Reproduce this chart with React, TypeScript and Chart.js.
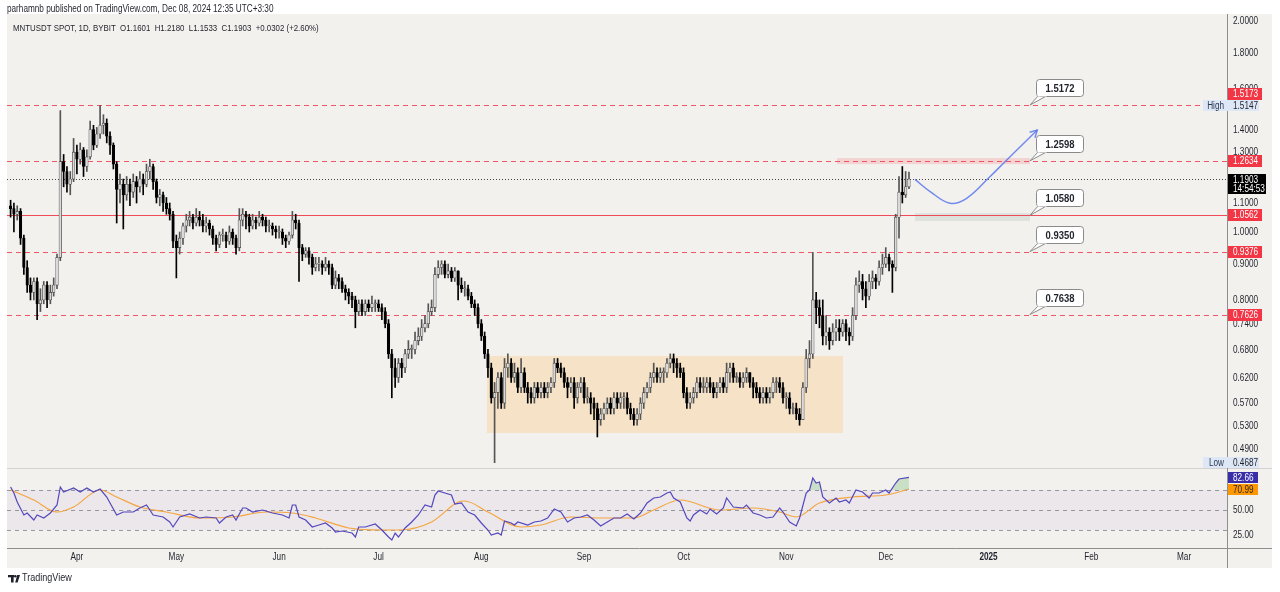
import React, { useEffect, useRef } from "react";
import { Chart, registerables } from "chart.js";

Chart.register(...registerables);

// ---------------- data ----------------
const FIRST_OPEN = 1.09;

// daily closes, 12 Mar 2024 (day 0) .. 8 Dec 2024 (day 271)
const closes = [
  1.08, 1.06, 1.07, 0.98, 0.89, 0.84, 0.82, 0.85, 0.79, 0.80,
  0.84, 0.80, 0.82, 0.84, 0.92, 1.26, 1.22, 1.17, 1.19, 1.30,
  1.27, 1.31, 1.24, 1.28, 1.40, 1.33, 1.38, 1.42, 1.43, 1.37,
  1.33, 1.25, 1.15, 1.17, 1.13, 1.17, 1.14, 1.18, 1.16, 1.19,
  1.17, 1.22, 1.24, 1.18, 1.12, 1.13, 1.10, 1.08, 1.06, 0.97,
  0.95, 0.98, 1.02, 1.04, 1.05, 1.03, 1.05, 1.04, 1.02, 1.03,
  1.01, 0.98, 0.96, 0.99, 0.99, 0.97, 1.00, 0.98, 0.95, 1.04,
  1.06, 1.05, 1.02, 1.04, 1.03, 1.05, 1.04, 1.02, 1.02, 1.01,
  1.00, 1.00, 0.98, 0.97, 0.99, 1.04, 1.03, 0.95, 0.93, 0.94,
  0.92, 0.89, 0.90, 0.90, 0.89, 0.90, 0.89, 0.84, 0.86, 0.85,
  0.83, 0.82, 0.81, 0.80, 0.77, 0.79, 0.77, 0.79, 0.78, 0.79,
  0.79, 0.78, 0.77, 0.74, 0.67, 0.64, 0.62, 0.65, 0.64, 0.67,
  0.68, 0.68, 0.70, 0.71, 0.73, 0.74, 0.77, 0.78, 0.87, 0.89,
  0.90, 0.87, 0.88, 0.86, 0.88, 0.84, 0.83, 0.83, 0.81, 0.79,
  0.78, 0.74, 0.71, 0.67, 0.64, 0.58, 0.59, 0.62, 0.57, 0.64,
  0.65, 0.62, 0.63, 0.60, 0.63, 0.60, 0.59, 0.58, 0.60, 0.59,
  0.60, 0.59, 0.60, 0.61, 0.65, 0.64, 0.63, 0.61, 0.60, 0.61,
  0.58, 0.60, 0.61, 0.58, 0.58, 0.57, 0.56, 0.54, 0.55, 0.56,
  0.57, 0.56, 0.58, 0.57, 0.58, 0.58, 0.56, 0.55, 0.54, 0.55,
  0.57, 0.59, 0.60, 0.62, 0.63, 0.62, 0.63, 0.63, 0.65, 0.66,
  0.65, 0.64, 0.63, 0.59, 0.57, 0.58, 0.59, 0.61, 0.60, 0.60,
  0.61, 0.60, 0.59, 0.60, 0.61, 0.60, 0.63, 0.64, 0.62, 0.62,
  0.61, 0.62, 0.63, 0.61, 0.60, 0.59, 0.58, 0.59, 0.58, 0.59,
  0.61, 0.61, 0.60, 0.58, 0.58, 0.56, 0.56, 0.55, 0.54, 0.60,
  0.66, 0.67, 0.80, 0.78, 0.76, 0.71, 0.72, 0.70, 0.72, 0.73,
  0.72, 0.74, 0.72, 0.71, 0.76, 0.84, 0.85, 0.83, 0.81, 0.85,
  0.86, 0.85, 0.89, 0.90, 0.92, 0.90, 0.89, 1.05, 1.14, 1.13,
  1.1601, 1.1903,
];

const highs = [
  1.11, 1.10, 1.09, 1.08, 0.99, 0.91, 0.86, 0.86, 0.86, 0.83,
  0.85, 0.85, 0.84, 0.86, 0.93, 1.49, 1.29, 1.24, 1.22, 1.36,
  1.33, 1.34, 1.32, 1.31, 1.44, 1.42, 1.41, 1.5147, 1.47, 1.45,
  1.39, 1.34, 1.26, 1.21, 1.19, 1.20, 1.19, 1.21, 1.20, 1.22,
  1.21, 1.25, 1.27, 1.25, 1.19, 1.15, 1.14, 1.12, 1.10, 1.07,
  0.99, 1.00, 1.03, 1.06, 1.07, 1.06, 1.08, 1.07, 1.06, 1.05,
  1.04, 1.02, 0.99, 1.00, 1.01, 1.00, 1.02, 1.01, 0.99, 1.08,
  1.08, 1.07, 1.06, 1.06, 1.05, 1.07, 1.06, 1.05, 1.04, 1.03,
  1.02, 1.02, 1.01, 0.99, 1.00, 1.07, 1.06, 1.04, 0.96, 0.95,
  0.95, 0.93, 0.92, 0.92, 0.91, 0.92, 0.91, 0.90, 0.88, 0.87,
  0.86, 0.84, 0.83, 0.82, 0.81, 0.80, 0.80, 0.80, 0.80, 0.81,
  0.80, 0.80, 0.79, 0.78, 0.75, 0.68, 0.66, 0.66, 0.66, 0.68,
  0.70, 0.69, 0.72, 0.73, 0.75, 0.76, 0.79, 0.80, 0.89, 0.91,
  0.91, 0.91, 0.90, 0.89, 0.89, 0.88, 0.86, 0.85, 0.84, 0.82,
  0.80, 0.79, 0.75, 0.72, 0.68, 0.65, 0.61, 0.63, 0.63, 0.66,
  0.67, 0.66, 0.65, 0.64, 0.66, 0.64, 0.61, 0.60, 0.61, 0.61,
  0.61, 0.61, 0.61, 0.62, 0.66, 0.66, 0.65, 0.64, 0.62, 0.62,
  0.62, 0.61, 0.62, 0.62, 0.60, 0.59, 0.58, 0.57, 0.56, 0.57,
  0.58, 0.58, 0.59, 0.59, 0.59, 0.59, 0.59, 0.57, 0.56, 0.56,
  0.58, 0.60, 0.61, 0.63, 0.65, 0.64, 0.64, 0.64, 0.66, 0.67,
  0.67, 0.66, 0.65, 0.64, 0.60, 0.59, 0.60, 0.62, 0.62, 0.62,
  0.62, 0.62, 0.61, 0.61, 0.62, 0.62, 0.65, 0.65, 0.65, 0.63,
  0.63, 0.63, 0.64, 0.63, 0.62, 0.61, 0.60, 0.60, 0.60, 0.60,
  0.62, 0.62, 0.62, 0.61, 0.59, 0.59, 0.57, 0.57, 0.56, 0.61,
  0.68, 0.70, 0.935, 0.82, 0.80, 0.80, 0.76, 0.73, 0.74, 0.75,
  0.75, 0.75, 0.75, 0.73, 0.78, 0.86, 0.88, 0.87, 0.85, 0.87,
  0.88, 0.87, 0.91, 0.93, 0.95, 0.93, 0.91, 1.06, 1.20, 1.24,
  1.22, 1.218,
];

const lows = [
  1.05, 1.00, 1.04, 0.96, 0.87, 0.82, 0.80, 0.80, 0.75, 0.77,
  0.79, 0.78, 0.79, 0.81, 0.83, 0.91, 1.16, 1.14, 1.13, 1.18,
  1.21, 1.25, 1.20, 1.22, 1.27, 1.31, 1.32, 1.36, 1.38, 1.34,
  1.29, 1.23, 1.03, 1.10, 1.01, 1.11, 1.09, 1.12, 1.10, 1.14,
  1.13, 1.16, 1.19, 1.15, 1.10, 1.09, 1.07, 1.06, 1.04, 0.95,
  0.86, 0.93, 0.96, 1.00, 1.02, 1.01, 1.02, 1.02, 1.00, 1.00,
  0.99, 0.96, 0.94, 0.95, 0.97, 0.95, 0.96, 0.96, 0.93, 0.94,
  1.02, 1.01, 1.00, 1.01, 1.01, 1.02, 1.02, 1.00, 1.00, 0.99,
  0.98, 0.98, 0.96, 0.95, 0.96, 0.98, 1.01, 0.85, 0.91, 0.92,
  0.90, 0.87, 0.88, 0.88, 0.87, 0.88, 0.87, 0.83, 0.83, 0.83,
  0.82, 0.80, 0.79, 0.78, 0.73, 0.76, 0.76, 0.76, 0.77, 0.77,
  0.77, 0.77, 0.75, 0.73, 0.66, 0.58, 0.60, 0.61, 0.62, 0.63,
  0.66, 0.66, 0.67, 0.69, 0.70, 0.72, 0.73, 0.76, 0.77, 0.86,
  0.87, 0.86, 0.86, 0.85, 0.85, 0.80, 0.82, 0.81, 0.80, 0.78,
  0.76, 0.73, 0.70, 0.66, 0.62, 0.57, 0.4687, 0.56, 0.56, 0.56,
  0.62, 0.61, 0.61, 0.59, 0.59, 0.59, 0.57, 0.57, 0.57, 0.58,
  0.58, 0.58, 0.58, 0.59, 0.60, 0.63, 0.62, 0.60, 0.58, 0.59,
  0.56, 0.57, 0.59, 0.57, 0.57, 0.55, 0.54, 0.51, 0.53, 0.54,
  0.55, 0.55, 0.55, 0.56, 0.56, 0.56, 0.55, 0.54, 0.53, 0.53,
  0.54, 0.56, 0.58, 0.59, 0.61, 0.61, 0.61, 0.61, 0.62, 0.64,
  0.63, 0.62, 0.62, 0.58, 0.56, 0.56, 0.57, 0.58, 0.59, 0.59,
  0.59, 0.59, 0.58, 0.58, 0.59, 0.59, 0.59, 0.61, 0.61, 0.61,
  0.60, 0.60, 0.61, 0.60, 0.58, 0.58, 0.57, 0.57, 0.57, 0.57,
  0.58, 0.59, 0.59, 0.57, 0.56, 0.55, 0.55, 0.54, 0.53, 0.54,
  0.59, 0.64, 0.66, 0.74, 0.73, 0.69, 0.69, 0.68, 0.69, 0.70,
  0.70, 0.71, 0.70, 0.69, 0.70, 0.75, 0.82, 0.80, 0.78, 0.80,
  0.83, 0.83, 0.84, 0.87, 0.89, 0.88, 0.82, 0.88, 0.98, 1.10,
  1.12, 1.1533,
];

// RSI(14): [day, value]
const rsiPoints: [number, number][] = [
  [0, 73], [1, 67], [2, 58], [4, 45], [5, 47], [7, 40], [8, 45], [10, 42], [12, 47], [14, 55],
  [15, 73], [16, 68], [19, 72], [21, 68], [23, 72], [25, 68], [27, 71], [29, 63], [32, 45], [34, 48],
  [37, 48], [39, 52], [41, 55], [43, 45], [46, 43], [48, 38], [49, 33], [51, 43], [54, 46], [57, 42],
  [59, 43], [62, 42], [63, 37], [65, 43], [67, 45], [68, 40], [70, 52], [71, 52], [73, 48], [76, 50],
  [79, 47], [82, 45], [84, 42], [85, 55], [86, 55], [87, 43], [89, 40], [91, 33], [93, 35], [95, 37],
  [97, 32], [98, 28], [100, 29], [103, 27], [104, 23], [105, 33], [107, 33], [110, 36], [112, 30], [114, 23],
  [115, 20], [116, 27], [117, 23], [119, 32], [121, 38], [123, 45], [125, 55], [127, 53], [128, 65], [129, 69],
  [131, 67], [133, 65], [134, 56], [136, 57], [138, 48], [140, 45], [142, 37], [144, 30], [145, 25], [147, 27],
  [148, 25], [149, 39], [151, 37], [152, 35], [153, 38], [156, 35], [158, 38], [160, 39], [162, 42], [164, 51],
  [166, 48], [168, 38], [170, 42], [172, 43], [174, 45], [176, 40], [178, 34], [180, 38], [182, 42], [184, 42],
  [186, 46], [188, 41], [190, 47], [192, 57], [194, 62], [196, 63], [198, 67], [199, 68], [200, 62], [202, 58],
  [204, 42], [205, 39], [206, 45], [208, 50], [210, 46], [211, 51], [213, 46], [215, 52], [216, 62], [218, 53],
  [221, 52], [222, 55], [224, 47], [226, 45], [228, 42], [230, 43], [232, 52], [233, 48], [235, 38], [237, 34],
  [238, 42], [240, 67], [241, 70], [242, 82], [243, 77], [244, 78], [245, 63], [247, 57], [249, 62], [250, 58],
  [252, 60], [253, 57], [255, 70], [257, 68], [259, 62], [260, 67], [262, 67], [264, 70], [265, 67], [267, 77],
  [268, 81], [271, 82.66],
];

// RSI moving average: [day, value]
const rsiMaPoints: [number, number][] = [
  [0, 70], [7, 60], [14, 48], [19, 53], [27, 70], [32, 63], [39, 53], [47, 48], [57, 42], [67, 43],
  [77, 48], [85, 47], [92, 42], [102, 32], [112, 30], [117, 30], [127, 38], [135, 58], [137, 59], [144, 48],
  [154, 33], [160, 35], [169, 43], [179, 42], [188, 42], [194, 50], [202, 60], [214, 50], [224, 52], [232, 48],
  [237, 43], [244, 57], [254, 63], [264, 65], [271, 70.99],
];

const priceTicks = [2.0, 1.8, 1.6, 1.4, 1.3, 1.1, 1.0, 0.9, 0.8, 0.74, 0.68, 0.62, 0.57, 0.53, 0.49];
const rsiTicks = [50, 25];
const monthDays = [20, 50, 81, 111, 142, 173, 203, 234, 264, 295, 326, 354];
const monthLabels = ["Apr", "May", "Jun", "Jul", "Aug", "Sep", "Oct", "Nov", "Dec", "2025", "Feb", "Mar"];

const dashedLevels = [1.5173, 1.2634, 0.9376, 0.7626];
const solidLevel = 1.0562;
const lastClose = 1.1903;
const countdown = "14:54:53";
const highValue = 1.5147;
const lowValue = 0.4687;
const rsiLast = 82.66;
const rsiMaLast = 70.99;

const calloutTexts = ["1.5172", "1.2598", "1.0580", "0.9350", "0.7638"];
const calloutLevels = [1.5173, 1.2634, 1.0562, 0.9376, 0.7626];
const calloutDay = 307.5;

const rangeBoxDays = [143.7, 251.1];
const rangeBoxPrices = [0.5167, 0.6654];
const resistZoneDays = [249.3, 307.5];
const resistZonePrices = [1.25, 1.275];
const supportZoneDays = [272.8, 307.5];
const supportZonePrices = [1.037, 1.064];

const pathDays = [272.8, 277.4, 283.4, 288.4, 295.4, 300.5, 309.7];
const pathPrices = [1.189, 1.142, 1.099, 1.117, 1.199, 1.267, 1.398];

const publishText = "parhamnb published on TradingView.com, Dec 08, 2024 12:35 UTC+3:30";
const headerText = "MNTUSDT SPOT, 1D, BYBIT  O1.1601  H1.2180  L1.1533  C1.1903  +0.0302 (+2.60%)";

// ---------------- styling ----------------
const FONT = '"Liberation Sans", Arial, sans-serif';
const BG = "#f3f1ee";
const TXT = "#1f222b";
const SQUEEZE = 0.82;
const RED = "#f23645";

const opens = closes.map((c, i) => (i === 0 ? FIRST_OPEN : closes[i - 1]));
const isUp = closes.map((c, i) => c >= opens[i]);

// text drawn with a slight horizontal squeeze, like the narrow UI font of the reference
function sText(
  ctx: CanvasRenderingContext2D,
  text: string,
  x: number,
  y: number,
  size: number,
  color: string,
  align: CanvasTextAlign = "left",
  weight = "normal",
  squeeze = SQUEEZE
) {
  ctx.save();
  ctx.font = `${weight} ${size}px ${FONT}`;
  ctx.fillStyle = color;
  ctx.textBaseline = "middle";
  ctx.textAlign = align;
  ctx.translate(x, y);
  ctx.scale(squeeze, 1);
  ctx.fillText(text, 0, 0);
  ctx.restore();
}

function roundRect(ctx: CanvasRenderingContext2D, x: number, y: number, w: number, h: number, r: number) {
  ctx.beginPath();
  ctx.moveTo(x + r, y);
  ctx.lineTo(x + w - r, y);
  ctx.quadraticCurveTo(x + w, y, x + w, y + r);
  ctx.lineTo(x + w, y + h - r);
  ctx.quadraticCurveTo(x + w, y + h, x + w - r, y + h);
  ctx.lineTo(x + r, y + h);
  ctx.quadraticCurveTo(x, y + h, x, y + h - r);
  ctx.lineTo(x, y + r);
  ctx.quadraticCurveTo(x, y, x + r, y);
  ctx.closePath();
}

function hLine(ctx: CanvasRenderingContext2D, x0: number, x1: number, y: number, color: string, dash: number[]) {
  ctx.save();
  ctx.strokeStyle = color;
  ctx.lineWidth = 1;
  ctx.setLineDash(dash);
  ctx.beginPath();
  const yy = Math.round(y) + 0.5;
  ctx.moveTo(x0, yy);
  ctx.lineTo(x1, yy);
  ctx.stroke();
  ctx.restore();
}

function axisBadge(ctx: CanvasRenderingContext2D, yc: number, text: string, bg: string, fg: string, w = 34, h = 12) {
  const top = Math.round(yc - h / 2);
  ctx.save();
  ctx.fillStyle = bg;
  ctx.fillRect(1228, top, w, h);
  ctx.restore();
  sText(ctx, text, 1233, top + h / 2 + 0.5, 10, fg);
}

const tvPlugin = {
  id: "tvPlugin",
  beforeDraw(chart: any) {
    const { ctx } = chart;
    ctx.save();
    ctx.fillStyle = "#ffffff";
    ctx.fillRect(0, 0, chart.width, chart.height);
    ctx.fillStyle = BG;
    ctx.fillRect(7, 14, 1265, 554);
    ctx.restore();
  },
  beforeDatasetsDraw(chart: any) {
    const { ctx, chartArea } = chart;
    const xs = chart.scales.x;
    const ys = chart.scales.y;
    const rs = chart.scales.rsi;
    const L = chartArea.left;
    const R = chartArea.right;
    ctx.save();
    // consolidation box
    const bx0 = xs.getPixelForValue(rangeBoxDays[0]);
    const bx1 = xs.getPixelForValue(rangeBoxDays[1]);
    const by0 = ys.getPixelForValue(rangeBoxPrices[1]);
    const by1 = ys.getPixelForValue(rangeBoxPrices[0]);
    ctx.fillStyle = "rgba(255,152,0,0.16)";
    ctx.fillRect(bx0, by0, bx1 - bx0, by1 - by0);
    // resistance zone
    const rx0 = xs.getPixelForValue(resistZoneDays[0]);
    const rx1 = xs.getPixelForValue(resistZoneDays[1]);
    const ry0 = ys.getPixelForValue(resistZonePrices[1]);
    const ry1 = ys.getPixelForValue(resistZonePrices[0]);
    ctx.fillStyle = "rgba(242,54,69,0.16)";
    ctx.fillRect(rx0, ry0, rx1 - rx0, ry1 - ry0);
    // support zone
    const sx0 = xs.getPixelForValue(supportZoneDays[0]);
    const sx1 = xs.getPixelForValue(supportZoneDays[1]);
    const sy0 = ys.getPixelForValue(supportZonePrices[1]);
    const sy1 = ys.getPixelForValue(supportZonePrices[0]);
    ctx.fillStyle = "rgba(120,160,140,0.18)";
    ctx.fillRect(sx0, sy0, sx1 - sx0, sy1 - sy0);

    // RSI band
    const r70 = rs.getPixelForValue(70);
    const r30 = rs.getPixelForValue(30);
    ctx.fillStyle = "rgba(126,87,194,0.06)";
    ctx.fillRect(L, r70, R - L, r30 - r70);
    [70, 50, 30].forEach((v) => hLine(ctx, L, R, rs.getPixelForValue(v), "rgba(120,123,134,0.75)", [4, 4]));

    // price levels
    dashedLevels.forEach((p) => hLine(ctx, L, R, ys.getPixelForValue(p), "rgba(240,70,85,0.9)", [5, 4]));
    hLine(ctx, L, R, ys.getPixelForValue(solidLevel), "#ee4a57", []);
    hLine(ctx, L, R, ys.getPixelForValue(lastClose), "rgba(40,40,40,0.85)", [1, 2]);
    ctx.restore();
  },
  afterDatasetsDraw(chart: any) {
    const { ctx } = chart;
    const xs = chart.scales.x;
    const ys = chart.scales.y;
    ctx.save();
    // arrow head at the end of the projection path
    const n = pathDays.length;
    const ex = xs.getPixelForValue(pathDays[n - 1]);
    const ey = ys.getPixelForValue(pathPrices[n - 1]);
    const px = xs.getPixelForValue(pathDays[n - 2]);
    const py = ys.getPixelForValue(pathPrices[n - 2]);
    const ang = Math.atan2(ey - py, ex - px);
    ctx.strokeStyle = "rgba(90,120,235,0.85)";
    ctx.lineWidth = 1.5;
    ctx.beginPath();
    ctx.moveTo(ex - 8 * Math.cos(ang - 0.5), ey - 8 * Math.sin(ang - 0.5));
    ctx.lineTo(ex, ey);
    ctx.lineTo(ex - 8 * Math.cos(ang + 0.5), ey - 8 * Math.sin(ang + 0.5));
    ctx.stroke();

    // callouts
    const tipX = xs.getPixelForValue(calloutDay);
    calloutTexts.forEach((t, i) => {
      const tipY = ys.getPixelForValue(calloutLevels[i]);
      const bx = Math.round(tipX + 6) + 0.5;
      const by = Math.round(tipY - 26) + 0.5;
      const w = 47;
      const h = 17;
      ctx.fillStyle = "#ffffff";
      ctx.strokeStyle = "#8a8a8a";
      ctx.lineWidth = 1;
      ctx.beginPath();
      ctx.moveTo(bx + 2, by + h - 1);
      ctx.lineTo(tipX, tipY);
      ctx.lineTo(bx + 9, by + h);
      ctx.closePath();
      ctx.fill();
      ctx.stroke();
      roundRect(ctx, bx, by, w, h, 3);
      ctx.fill();
      ctx.stroke();
      ctx.fillStyle = "#ffffff";
      ctx.fillRect(bx + 1, by + h - 2, 9, 2);
      sText(ctx, t, bx + w / 2, by + h / 2 + 0.5, 11, TXT, "center", "bold", 0.86);
    });
    ctx.restore();
  },
  afterDraw(chart: any) {
    const { ctx, chartArea } = chart;
    const xs = chart.scales.x;
    const ys = chart.scales.y;
    const rs = chart.scales.rsi;
    ctx.save();
    // frame lines
    hLine(ctx, 7, 1272, ys.bottom - 0.5, "#d2d2d2", []);
    hLine(ctx, 7, 1272, chartArea.bottom - 0.5, "#8e8e8e", []);
    ctx.strokeStyle = "#8e8e8e";
    ctx.lineWidth = 1;
    ctx.beginPath();
    ctx.moveTo(Math.round(chartArea.right) + 0.5, 14);
    ctx.lineTo(Math.round(chartArea.right) + 0.5, 568);
    ctx.stroke();
    ctx.restore();

    // axis tick labels, from the library's own tick lists and scales
    ys.ticks.forEach((t: any) => {
      sText(ctx, Number(t.value).toFixed(4), 1233, ys.getPixelForValue(t.value) + 0.5, 10, TXT);
    });
    rs.ticks.forEach((t: any) => {
      sText(ctx, Number(t.value).toFixed(2), 1233, rs.getPixelForValue(t.value) + 0.5, 10, TXT);
    });
    xs.ticks.forEach((t: any) => {
      const i = monthDays.indexOf(Number(t.value));
      if (i < 0) return;
      const isYear = monthLabels[i] === "2025";
      sText(ctx, monthLabels[i], xs.getPixelForValue(t.value), chartArea.bottom + 9, 10, TXT, "center", isYear ? "bold" : "normal");
    });

    // High / Low markers
    const hy = ys.getPixelForValue(highValue);
    const ly = ys.getPixelForValue(lowValue);
    ([[hy, "High", highValue], [ly, "Low", lowValue]] as any[]).forEach(([yv, lab, val]) => {
      const top = Math.round(yv - 5.5);
      ctx.save();
      ctx.fillStyle = "#dde7f5";
      ctx.fillRect(1203, top, 56, 11);
      ctx.restore();
      sText(ctx, lab, 1224, top + 6, 10, "#2a3a55", "right");
      sText(ctx, val.toFixed(4), 1233, top + 6, 10, TXT);
    });

    // red level badges (pushed clear of the High marker)
    dashedLevels.concat([solidLevel]).forEach((p) => {
      let yc = ys.getPixelForValue(p);
      if (Math.abs(yc - hy) < 12) yc = hy - 12;
      axisBadge(ctx, yc, p.toFixed(4), RED, "#ffffff");
    });

    // last price with countdown
    const cy = ys.getPixelForValue(lastClose);
    ctx.save();
    ctx.fillStyle = "#000000";
    ctx.fillRect(1228, Math.round(cy - 5), 38, 20);
    ctx.restore();
    sText(ctx, lastClose.toFixed(4), 1233, Math.round(cy) + 1, 10, "#ffffff");
    sText(ctx, countdown, 1233, Math.round(cy) + 10.5, 10, "#ffffff");

    // RSI badges
    axisBadge(ctx, rs.getPixelForValue(rsiLast), rsiLast.toFixed(2), "#3a2ea8", "#ffffff", 30, 11);
    axisBadge(ctx, rs.getPixelForValue(rsiMaLast), rsiMaLast.toFixed(2), "#ff9800", TXT, 30, 11);

    // header texts
    sText(ctx, publishText, 7, 9, 10, TXT);
    sText(ctx, headerText, 13, 28, 9.6, TXT);

    // TradingView logo + name
    ctx.save();
    ctx.fillStyle = TXT;
    ctx.fillRect(8, 575, 6, 2.3);
    ctx.fillRect(11, 575, 2.6, 7.5);
    ctx.beginPath();
    ctx.arc(15.3, 576.3, 1.3, 0, Math.PI * 2);
    ctx.fill();
    ctx.beginPath();
    ctx.moveTo(17.2, 575);
    ctx.lineTo(20, 575);
    ctx.lineTo(17.6, 582.5);
    ctx.lineTo(15.2, 582.5);
    ctx.closePath();
    ctx.fill();
    ctx.restore();
    sText(ctx, "TradingView", 22, 578.5, 10.5, TXT, "left", "normal", 0.86);
  },
};

// plot geometry in data units
const X_MIN = -1.086;
const X_MAX = 366.94;
const P_MAX = 2.0466;
const P_MIN = 0.46057;

export default function App() {
  const ref = useRef<HTMLCanvasElement>(null);

  useEffect(() => {
    document.body.style.margin = "0";
    const canvas = ref.current;
    if (!canvas) return;
    Chart.defaults.font.family = FONT;
    Chart.defaults.font.size = 9;
    Chart.defaults.color = TXT;

    const days = closes.map((_, i) => i);
    const chart = new Chart(canvas, {
      type: "bar",
      data: {
        datasets: [
          {
            type: "line",
            label: "path",
            data: pathDays.map((d, i) => ({ x: d, y: pathPrices[i] })),
            xAxisID: "x",
            yAxisID: "y",
            borderColor: "rgba(90,120,235,0.85)",
            borderWidth: 1.5,
            pointRadius: 0,
            tension: 0.4,
            fill: false,
            order: 0,
          } as any,
          {
            type: "bar",
            label: "body",
            data: days.map((i) => ({ x: i, y: [opens[i], closes[i]] })),
            xAxisID: "x",
            yAxisID: "y",
            grouped: false,
            barThickness: 2.6,
            minBarLength: 1,
            backgroundColor: isUp.map((u) => (u ? "#dadada" : "#000000")),
            borderColor: isUp.map((u) => (u ? "#3a3a3a" : "#000000")),
            borderWidth: 0.6,
            borderSkipped: false,
            order: 1,
          } as any,
          {
            type: "bar",
            label: "wick",
            data: days.map((i) => ({ x: i, y: [lows[i], highs[i]] })),
            xAxisID: "x",
            yAxisID: "y",
            grouped: false,
            barThickness: 1,
            backgroundColor: isUp.map((u) => (u ? "#555555" : "#000000")),
            borderWidth: 0,
            order: 2,
          } as any,
          {
            type: "line",
            label: "RSI",
            data: rsiPoints.map(([d, v]) => ({ x: d, y: v })),
            xAxisID: "x",
            yAxisID: "rsi",
            borderColor: "#5447bd",
            borderWidth: 1.2,
            pointRadius: 0,
            tension: 0,
            fill: { target: { value: 70 }, above: "rgba(76,175,80,0.25)", below: "rgba(0,0,0,0)" },
            order: 3,
          } as any,
          {
            type: "line",
            label: "RSI MA",
            data: rsiMaPoints.map(([d, v]) => ({ x: d, y: v })),
            xAxisID: "x",
            yAxisID: "rsi",
            borderColor: "#f5a640",
            borderWidth: 1.2,
            pointRadius: 0,
            cubicInterpolationMode: "monotone",
            fill: false,
            order: 4,
          } as any,
        ],
      },
      options: {
        responsive: false,
        devicePixelRatio: 1,
        animation: false,
        events: [],
        layout: { padding: { left: 7, top: 14, right: 8, bottom: 25 } },
        plugins: { legend: { display: false }, tooltip: { enabled: false } },
        scales: {
          x: {
            type: "linear",
            min: X_MIN,
            max: X_MAX,
            offset: false,
            grid: { display: false, drawTicks: false },
            border: { display: false },
            afterBuildTicks: (s: any) => {
              s.ticks = monthDays.map((v) => ({ value: v }));
            },
            afterFit: (s: any) => {
              s.height = 19;
            },
            ticks: { display: false, autoSkip: false, maxRotation: 0 },
          },
          y: {
            type: "logarithmic",
            position: "right",
            stack: "panes",
            stackWeight: 454,
            min: P_MIN,
            max: P_MAX,
            bounds: "data",
            grid: { display: false, drawTicks: false },
            border: { display: false },
            afterBuildTicks: (s: any) => {
              s.ticks = priceTicks.map((v) => ({ value: v }));
            },
            afterFit: (s: any) => {
              s.width = 45;
            },
            ticks: { display: false, autoSkip: false },
          },
          rsi: {
            type: "linear",
            position: "right",
            stack: "panes",
            stackWeight: 80,
            min: 12,
            max: 92,
            bounds: "data",
            grid: { display: false, drawTicks: false },
            border: { display: false },
            afterBuildTicks: (s: any) => {
              s.ticks = rsiTicks.map((v) => ({ value: v }));
            },
            afterFit: (s: any) => {
              s.width = 45;
            },
            ticks: { display: false, autoSkip: false },
          },
        } as any,
      },
      plugins: [tvPlugin],
    } as any);
    return () => chart.destroy();
  }, []);

  return <canvas ref={ref} width={1280} height={592} style={{ display: "block", width: 1280, height: 592 }} />;
}
